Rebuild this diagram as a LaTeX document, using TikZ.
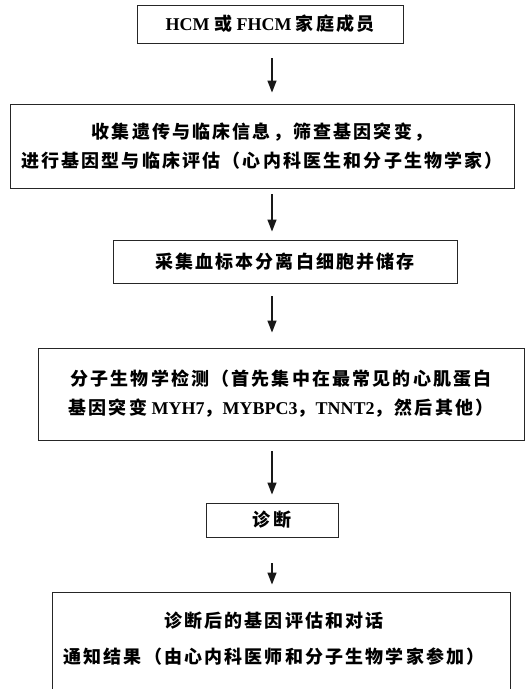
\documentclass[tikz,border=0pt]{standalone}
\usepackage{fontspec}
\setmainfont{Liberation Serif}
\newfontfamily\cjk{Noto Sans CJK SC}[LetterSpace=12]
\usetikzlibrary{arrows.meta}
\tikzset{
  box/.style={draw=black!85, line width=0.9pt, inner sep=0pt, align=center,
    font=\fontsize{18}{29}\selectfont\bfseries},
  arr/.style={draw=black!90, line width=1.3pt, -{Triangle[length=12pt,width=9pt]}},
  txt/.style={inner sep=0pt, align=center, font=\fontsize{18}{36}\selectfont\bfseries}
}
\begin{document}
\begin{tikzpicture}[x=1pt,y=-1pt]
\useasboundingbox (0,0) rectangle (531,689);
\clip (0,0) rectangle (531,689);
\fill[white] (0,0) rectangle (531,689);
\coordinate (ax) at (272,0);
\node[box, minimum width=266pt, minimum height=38pt] (b1) at (270,24)
  {HCM {\cjk 或} FHCM {\cjk 家庭成员}};
\node[box, minimum width=504pt, minimum height=84pt] (b2) at (262,146)
  {{\cjk 收集遗传与临床信息，筛查基因突变，}\\{\cjk 进行基因型与临床评估（心内科医生和分子生物学家）}};
\node[box, minimum width=344pt, minimum height=43pt] (b3) at (285,261.5)
  {{\cjk 采集血标本分离白细胞并储存}};
\node[box, minimum width=486pt, minimum height=92pt] (b4) at (281,394)
  {{\cjk 分子生物学检测（首先集中在最常见的心肌蛋白}\\{\cjk 基因突变} MYH7{\cjk ，}MYBPC3{\cjk ，}TNNT2{\cjk ，然后其他）}};
\node[box, minimum width=132pt, minimum height=34pt] (b5) at (272,520)
  {{\cjk 诊断}};
\node[box, minimum width=458pt, minimum height=118pt] (b6) at (281,651) {};
\node[txt] (b6t) at (274,639)
  {{\cjk 诊断后的基因评估和对话}\\{\cjk 通知结果（由心内科医师和分子生物学家参加）}};
\draw[arr, shorten <=15pt, shorten >=11pt] (b1.south -| ax) -- (b2.north -| ax);
\draw[arr, shorten <=6pt, shorten >=8pt] (b2.south -| ax) -- (b3.north -| ax);
\draw[arr, shorten <=13pt, shorten >=15pt] (b3.south -| ax) -- (b4.north -| ax);
\draw[arr, shorten <=11pt, shorten >=8pt] (b4.south -| ax) -- (b5.north -| ax);
\draw[arr, shorten <=26pt, shorten >=7pt] (b5.south -| ax) -- (b6.north -| ax);
\end{tikzpicture}
\end{document}
